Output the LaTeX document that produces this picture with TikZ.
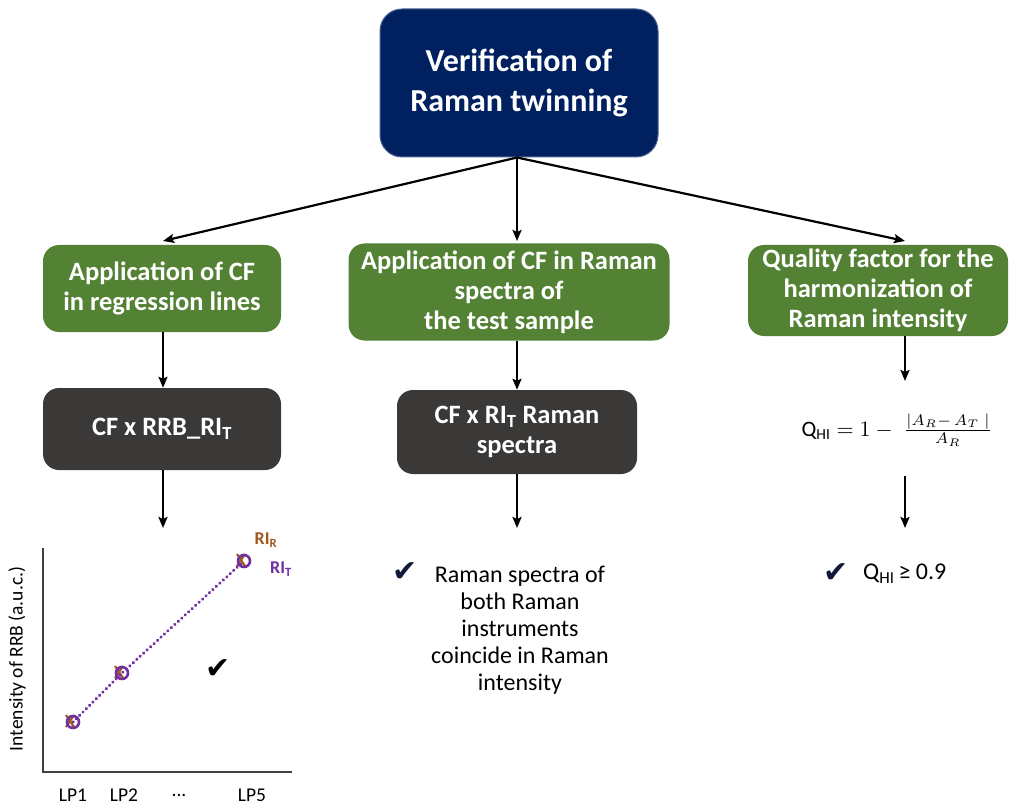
\documentclass[tikz,border=0pt]{standalone}
\usepackage{fontspec}
\usepackage{graphicx}
\setmainfont{Carlito}
\newfontfamily\symfont{DejaVu Sans}
\usetikzlibrary{arrows.meta}

\definecolor{navybox}{HTML}{002060}
\definecolor{greenbox}{HTML}{548235}
\definecolor{darkbox}{HTML}{3B3838}
\definecolor{plotpurple}{HTML}{7030A0}
\definecolor{plotbrown}{HTML}{A0561C}
\definecolor{axisgray}{HTML}{404040}
\definecolor{checknavy}{HTML}{121A3C}

\tikzset{
  box/.style={rounded corners=16pt, text=white, align=center, inner sep=0pt,
    font=\bfseries\fontsize{26.5}{30}\selectfont},
  titlebox/.style={box, fill=navybox, draw=navybox!70!white, line width=1pt,
    rounded corners=22pt, font=\bfseries\fontsize{32}{40}\selectfont},
  stepgreen/.style={box, fill=greenbox},
  stepdark/.style={box, fill=darkbox},
  arr/.style={line width=2.2pt, -{Stealth[length=11pt,width=9pt,inset=2pt]}},
  bodytext/.style={align=center, inner sep=0pt, font=\fontsize{24}{27}\selectfont},
  checkmark/.style={inner sep=0pt, text=checknavy, font=\symfont\fontsize{30}{30}\selectfont},
  axis/.style={line width=2.5pt, draw=axisgray},
  ticklabel/.style={inner sep=0pt, font=\fontsize{19.5}{22}\selectfont},
  ptT/.style={circle, draw=plotpurple, line width=2.6pt, minimum size=12pt, inner sep=0pt},
  ptR/.style={draw=plotbrown, line width=2.2pt},
}

\begin{document}
\begin{tikzpicture}[x=1pt, y=-1pt]
\useasboundingbox (0,0) rectangle (1017,810);

% title
\node[titlebox, minimum width=278pt, minimum height=148pt] (top) at (519,83)
  {Verification of\\Raman twinning};

% first row of steps
\node[stepgreen, minimum width=238pt, minimum height=87pt] (g1) at (162,288.5)
  {Application of CF\\in regression lines};
\node[stepgreen, minimum width=321pt, minimum height=97pt] (g2) at (509,292)
  {Application of CF in Raman\\spectra of\\the test sample};
\node[stepgreen, minimum width=260pt, minimum height=91pt] (g3) at (878,290.5)
  {Quality factor for the\\harmonization of\\Raman intensity};

% second row
\node[stepdark, minimum width=238pt, minimum height=82pt] (d1) at (162,429)
  {CF x RRB\_RI\textsubscript{T}};
\node[stepdark, minimum width=240pt, minimum height=84pt] (d2) at (517,432)
  {CF x RI\textsubscript{T} Raman\\spectra};
\node[inner sep=0pt, font=\fontsize{22}{24}\selectfont] (qf) at (897,430)
  {Q\textsubscript{HI}\;\scalebox{2.2}{\normalsize$=1-\;\frac{|A_R-\,A_T\;|}{A_R}$}};

% arrow end points
\coordinate (e1) at (163,241);
\coordinate (e2) at (517,241);
\coordinate (e3) at (905,241);
\coordinate (s1) at (163,332);
\coordinate (s2) at (517,341);
\coordinate (s3) at (905,336);
\coordinate (f3) at (905,381);
\coordinate (q3) at (905,476);
\coordinate (c1) at (163,528);
\coordinate (c2) at (517,528);
\coordinate (c3) at (905,528);

\draw[arr] (top.south -| e2) -- (e1);
\draw[arr] (top.south -| e2) -- (e2);
\draw[arr] (top.south -| e2) -- (e3);
\draw[arr] (s1) -- (d1.north -| s1);
\draw[arr] (s2) -- (d2.north -| s2);
\draw[arr] (s3) -- (f3);
\draw[arr] (d1.south -| s1) -- (c1);
\draw[arr] (d2.south -| s2) -- (c2);
\draw[arr] (q3) -- (c3);

% middle result
\node[checkmark] (k2) at (405,572) {✔};
\node[bodytext] (r2) at (520,630)
  {Raman spectra of\\both Raman\\instruments\\coincide in Raman\\intensity};

% right result
\node[checkmark] (k3) at (836,573) {✔};
\node[inner sep=0pt, anchor=west, font=\fontsize{24}{27}\selectfont] (r3) at (863,574)
  {Q\textsubscript{HI}\,≥ 0.9};

% regression plot
\coordinate (o) at (43,772);
\draw[axis] (43,548) -- (o) -- (292,772);
\node[ticklabel, rotate=90] (ylab) at (17,659) {Intensity of RRB (a.u.c.)};
\node[ticklabel] (x1) at (73,795) {LP1};
\node[ticklabel] (x2) at (124,795) {LP2};
\node[ticklabel] (x3) at (179,795) {...};
\node[ticklabel] (x5) at (252,795) {LP5};

\coordinate (p1) at (73,722);
\coordinate (p2) at (122,673);
\coordinate (p5) at (244,561);
\foreach \p in {p1,p2,p5}{
  \draw[ptR] ([shift={(-7,-7)}]\p) -- ([shift={(1,5)}]\p);
  \draw[ptR] ([shift={(1,-7)}]\p) -- ([shift={(-7,5)}]\p);
}
\draw[plotpurple, line width=3.4pt, line cap=round, dash pattern=on 0.1pt off 4.6pt]
  (p1) -- (p2) -- (p5);
\node[ptT] (m1) at (p1) {};
\node[ptT] (m2) at (p2) {};
\node[ptT] (m5) at (p5) {};
\node[inner sep=0pt, text=plotbrown, font=\bfseries\fontsize{18}{20}\selectfont] (lr) at (266,540) {RI\textsubscript{R}};
\node[inner sep=0pt, text=plotpurple, font=\bfseries\fontsize{18}{20}\selectfont] (lt) at (281,569) {RI\textsubscript{T}};
\node[inner sep=0pt, text=black, font=\symfont\fontsize{30}{30}\selectfont] (k1) at (218,669) {✔};
\end{tikzpicture}
\end{document}
